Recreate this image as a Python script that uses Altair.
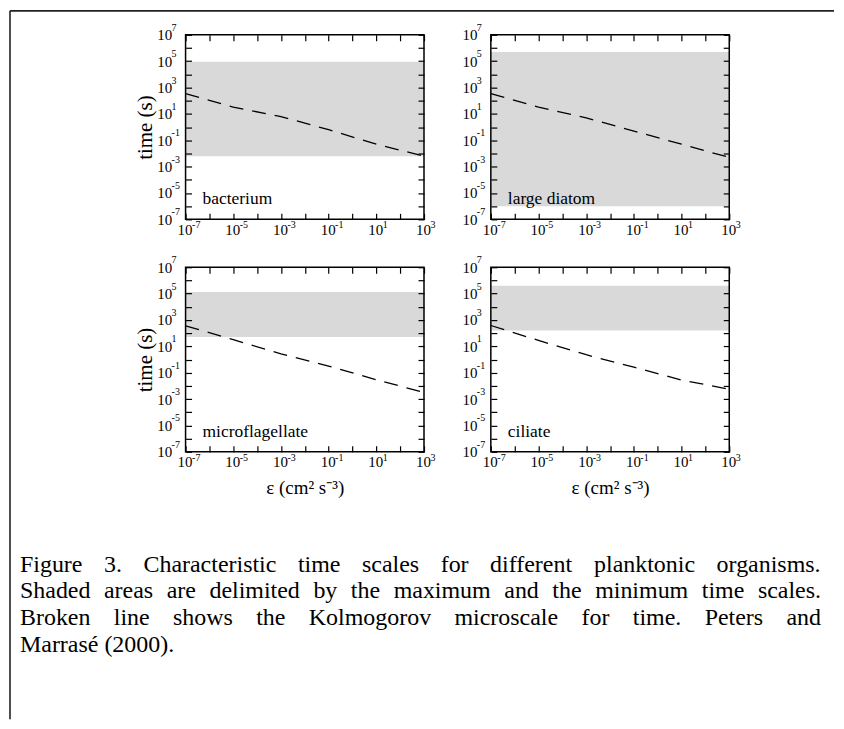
import altair as alt
import pandas as pd

# ---------------- data ----------------
organisms = ["bacterium", "large diatom", "microflagellate", "ciliate"]
band_max = [9.0e4, 5.0e5, 1.3e5, 4.0e5]        # upper limit of shaded area (s)
band_min = [6.0e-3, 1.0e-6, 5.0e1, 1.6e2]      # lower limit of shaded area (s)

eps_vals = [1e-7, 1e-5, 1e-3, 1e-1, 1e1, 1e3]  # dissipation rate (cm2 s-3)
kolmo_bacterium = [3.5e2, 3.2e1, 6.3e0, 6.3e-1, 5.0e-2, 6.3e-3]
kolmo_diatom = [3.5e2, 3.2e1, 5.0e0, 5.0e-1, 5.0e-2, 5.0e-3]
kolmo_microflag = [3.6e2, 3.2e1, 2.7e0, 3.2e-1, 2.9e-2, 3.2e-3]
kolmo_ciliate = [3.8e2, 2.8e1, 2.3e0, 2.6e-1, 2.8e-2, 5.6e-3]
kolmo_all = [kolmo_bacterium, kolmo_diatom, kolmo_microflag, kolmo_ciliate]

x_domain = [1e-7, 1e3]
y_domain = [1e-7, 1e7]
x_ticks = [1e-7, 1e-6, 1e-5, 1e-4, 1e-3, 1e-2, 1e-1, 1e0, 1e1, 1e2, 1e3]
y_ticks = [1e-7, 1e-6, 1e-5, 1e-4, 1e-3, 1e-2, 1e-1, 1e0,
           1e1, 1e2, 1e3, 1e4, 1e5, 1e6, 1e7]
x_label_vals = [1e-7, 1e-5, 1e-3, 1e-1, 1e1, 1e3]
x_label_exps = ["-7", "-5", "-3", "-1", "1", "3"]
y_label_vals = [1e-7, 1e-5, 1e-3, 1e-1, 1e1, 1e3, 1e5, 1e7]
y_label_exps = ["-7", "-5", "-3", "-1", "1", "3", "5", "7"]

y_title = "time (s)"
x_title = "ε (cm² s⁻³)"
caption_lines = [
    "Figure 3. Characteristic time scales for different planktonic organisms.",
    "Shaded areas are delimited by the maximum and the minimum time scales.",
    "Broken line shows the Kolmogorov microscale for time. Peters and",
    "Marrasé (2000).",
]
caption_justified = [True, True, True, False]

# ---------------- styling ----------------
W, H = 239, 185
FONT = "Liberation Serif"
GREY = "#d9d9d9"
CAP_SIZE = 24
CAP_WIDTH = 803
CAP_X0, CAP_Y0, CAP_LH = -166, 538, 27   # relative to the first panel

xs = alt.Scale(type="log", domain=x_domain, nice=False)
ys = alt.Scale(type="log", domain=y_domain, nice=False)
LABEL_EXPR = "round(log(datum.value) / LN10) % 2 != 0 ? '10' : ''"

# Times-compatible advance widths (1/1000 em) used to justify the caption
_W = {" ": 250, "(": 333, ")": 333, ".": 250, ",": 250, "é": 444}
_W.update({d: 500 for d in "0123456789"})
_W.update(dict(zip("ABCDEFGHIJKLMNOPQRSTUVWXYZ",
                   [722, 667, 667, 722, 611, 556, 722, 722, 333, 389, 722, 611, 889,
                    722, 722, 556, 722, 667, 556, 611, 722, 722, 944, 722, 722, 611])))
_W.update(dict(zip("abcdefghijklmnopqrstuvwxyz",
                   [444, 500, 444, 500, 444, 333, 500, 500, 278, 278, 500, 278, 778,
                    500, 500, 500, 500, 333, 389, 278, 500, 500, 722, 500, 500, 444])))


def text_w(s):
    return sum(_W.get(c, 500) for c in s) * CAP_SIZE / 1000.0


cap_rows = []
for k, (line, just) in enumerate(zip(caption_lines, caption_justified)):
    words = line.split(" ")
    widths = [text_w(w) for w in words]
    if just and len(words) > 1:
        gap = (CAP_WIDTH - sum(widths)) / (len(words) - 1)
    else:
        gap = text_w(" ")
    x = CAP_X0
    for w, wd in zip(words, widths):
        cap_rows.append({"word": w, "px": x, "py": CAP_Y0 + k * CAP_LH})
        x += wd + gap
cap_df = pd.DataFrame(cap_rows)


def make_axis(orient, show_labels, title=None, **kw):
    base = dict(
        orient=orient, offset=-6, tickSize=6, tickWidth=1.2, tickColor="black",
        domain=False, grid=False, zindex=1, labels=show_labels,
        labelFont=FONT, labelFontSize=15, labelColor="black",
        labelOverlap=False, labelFlush=False, labelBound=False,
        titleFont=FONT, titleFontSize=20, titleFontWeight="normal",
        titleColor="black",
    )
    base["values"] = x_ticks if orient in ("bottom", "top") else y_ticks
    if show_labels:
        base["labelExpr"] = LABEL_EXPR
    base.update(kw)
    return alt.Axis(title=title, **base)


def panel_layers(i, left_title, bottom_title):
    band_df = pd.DataFrame({
        "x1": [x_domain[0]], "x2": [x_domain[1]],
        "ymax": [band_max[i]], "ymin": [band_min[i]],
    })
    line_df = pd.DataFrame({"eps": eps_vals, "t": kolmo_all[i]})
    name_df = pd.DataFrame({"name": [organisms[i]]})
    xexp_df = pd.DataFrame({"v": x_label_vals, "e": x_label_exps})
    yexp_df = pd.DataFrame({"v": y_label_vals, "e": y_label_exps})

    bottom_kw = dict(labelPadding=3, labelOffset=-1, labelBaseline="top")
    if bottom_title:
        bottom_kw.update(titleX=W / 2, titleY=33, titleBaseline="top",
                         titleAlign="center", titleFontSize=19)
    left_kw = dict(labelPadding=14, labelAlign="right", labelBaseline="middle")
    if left_title:
        left_kw.update(titleX=-46, titleY=H / 2, titleAngle=270,
                       titleBaseline="middle", titleAlign="center",
                       titleFontSize=21)

    band = alt.Chart(band_df).mark_rect(color=GREY).encode(
        x=alt.X("x1:Q", scale=xs,
                axis=make_axis("bottom", True, x_title if bottom_title else None, **bottom_kw)),
        x2="x2:Q",
        y=alt.Y("ymax:Q", scale=ys,
                axis=make_axis("left", True, y_title if left_title else None, **left_kw)),
        y2="ymin:Q",
    )
    line = alt.Chart(line_df).mark_line(
        color="black", strokeWidth=1.3, strokeDash=[14, 9]
    ).encode(
        x=alt.X("eps:Q", scale=xs, axis=make_axis("top", False)),
        y=alt.Y("t:Q", scale=ys, axis=make_axis("right", False)),
    )
    frame = alt.Chart(name_df).mark_rect(
        filled=False, color="black", strokeWidth=1.5
    ).encode(x=alt.value(0), x2=alt.value(W), y=alt.value(0), y2=alt.value(H))
    xexp = alt.Chart(xexp_df).mark_text(
        align="left", baseline="top", dx=6.5, font=FONT, fontSize=10, color="black"
    ).encode(x=alt.X("v:Q", scale=xs, axis=None), y=alt.value(H + 1), text="e:N")
    yexp = alt.Chart(yexp_df).mark_text(
        align="left", baseline="middle", dy=-7, font=FONT, fontSize=10, color="black"
    ).encode(y=alt.Y("v:Q", scale=ys, axis=None), x=alt.value(-14), text="e:N")
    name = alt.Chart(name_df).mark_text(
        align="left", baseline="alphabetic", font=FONT, fontSize=17.5, color="black"
    ).encode(x=alt.value(17), y=alt.value(170), text="name:N")

    return alt.layer(band, line, frame, xexp, yexp, name).resolve_axis(
        x="independent", y="independent"
    )


# caption (justified words) and page border, placed relative to the first panel
pix = alt.Scale(domain=[0, 1000], range=[0, 1000])
caption = alt.Chart(cap_df).mark_text(
    align="left", baseline="alphabetic", font=FONT, fontSize=CAP_SIZE, color="black"
).encode(
    x=alt.X("px:Q", scale=pix, axis=None),
    y=alt.Y("py:Q", scale=pix, axis=None),
    text="word:N",
)
one = pd.DataFrame({"k": [0]})
border_left = alt.Chart(one).mark_rule(color="#222222", strokeWidth=1.6).encode(
    x=alt.value(-176), y=alt.value(-24), y2=alt.value(686))
border_top = alt.Chart(one).mark_rule(color="#222222", strokeWidth=1.6).encode(
    x=alt.value(-176), x2=alt.value(650), y=alt.value(-24))

pA = alt.layer(panel_layers(0, True, False), caption, border_left, border_top).resolve_scale(
    x="independent", y="independent").properties(width=W, height=H)
pB = panel_layers(1, False, False).properties(width=W, height=H)
pC = panel_layers(2, True, True).properties(width=W, height=H)
pD = panel_layers(3, False, True).properties(width=W, height=H)

chart = alt.concat(
    pA, pB, pC, pD, columns=2, spacing={"row": 48, "column": 67}, bounds="flush"
).properties(padding=0).configure_view(stroke="transparent")

chart.save("out.html", embed_options={"renderer": "svg", "actions": False})
